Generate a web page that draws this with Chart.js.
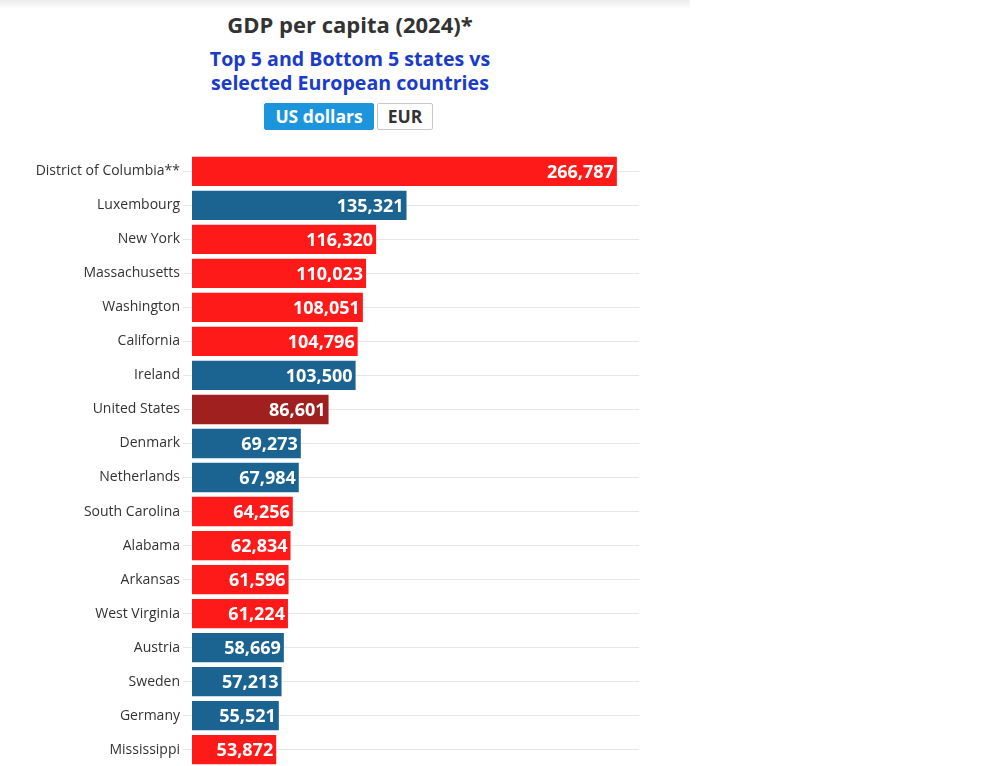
<!DOCTYPE html>
<html>
<head>
<meta charset="utf-8">
<script src="https://cdn.jsdelivr.net/npm/chart.js@4.4.1/dist/chart.umd.min.js"></script>
<style>
  body { margin: 0; background: #fff; font-family: "Open Sans", sans-serif; overflow: hidden; }
  #wrap { position: relative; width: 690px; height: 766px; }
  #topband { position: absolute; left: 0; top: 0; width: 690px; height: 9px;
    background: linear-gradient(#ececec, #fff); }
  #title { position: absolute; top: 9px; left: 0; width: 700px; text-align: center;
    font-size: 22px; font-weight: 700; color: #333; }
  #subtitle { position: absolute; top: 47px; left: 0; width: 700px; text-align: center;
    font-size: 19.6px; font-weight: 700; color: #1a3cc8; line-height: 24px; }
  #buttons { position: absolute; top: 103px; left: 264px; display: flex; gap: 3px; }
  .btn { height: 27px; box-sizing: border-box; font-size: 17.5px; font-weight: 700;
    line-height: 25px; padding: 0; border-radius: 2px; }
  .on { background: #1c95dc; color: #fff; border: 1px solid #1c95dc; width: 110px; text-align: center; }
  .off { background: #fff; color: #333; border: 1px solid #c8c8c8; width: 56px; text-align: center; }
  #box { position: absolute; left: 0; top: 143px; width: 690px; height: 635px; }
</style>
</head>
<body>
<div id="wrap">
  <div id="topband"></div>
  <div id="title">GDP per capita (2024)*</div>
  <div id="subtitle">Top 5 and Bottom 5 states vs<br>selected European countries</div>
  <div id="buttons"><div class="btn on">US dollars</div><div class="btn off">EUR</div></div>
  <div id="box"><canvas id="gdpChart"></canvas></div>
</div>
<script>
// GDP per capita 2024, US dollars
const places = ["District of Columbia**", "Luxembourg", "New York", "Massachusetts", "Washington",
  "California", "Ireland", "United States", "Denmark", "Netherlands", "South Carolina", "Alabama",
  "Arkansas", "West Virginia", "Austria", "Sweden", "Germany", "Mississippi"];
const gdpValues = [266787, 135321, 116320, 110023, 108051, 104796, 103500, 86601, 69273, 67984,
  64256, 62834, 61596, 61224, 58669, 57213, 55521, 53872];
// "state", "country" or "us"
const kinds = ["state", "country", "state", "state", "state", "state", "country", "us", "country",
  "country", "state", "state", "state", "state", "country", "country", "country", "state"];

const colorOf = { state: "#ff1a1a", country: "#1b6491", us: "#a02020" };

const valueLabels = {
  id: "valueLabels",
  afterDatasetsDraw(chart) {
    const ctx = chart.ctx;
    const meta = chart.getDatasetMeta(0);
    ctx.save();
    ctx.font = "700 18px 'Open Sans'";
    ctx.fillStyle = "#fff";
    ctx.textAlign = "right";
    ctx.textBaseline = "middle";
    meta.data.forEach((bar, i) => {
      ctx.fillText(gdpValues[i].toLocaleString("en-US"), bar.x - 4, bar.y + 1);
    });
    ctx.restore();
  }
};

const ctx = document.getElementById("gdpChart").getContext("2d");
new Chart(ctx, {
  type: "bar",
  data: {
    labels: places,
    datasets: [{
      data: gdpValues,
      backgroundColor: kinds.map(k => colorOf[k]),
      borderColor: "rgba(255,255,255,0.5)",
      borderWidth: 1,
      borderSkipped: false,
      barPercentage: 0.92,
      categoryPercentage: 1
    }]
  },
  options: {
    indexAxis: "y",
    responsive: true,
    maintainAspectRatio: false,
    animation: false,
    layout: { padding: { top: 8, bottom: 1, left: 0, right: 51 } },
    scales: {
      x: { display: false, min: 0, max: 280000 },
      y: {
        afterFit: s => { s.width = 191; },
        border: { display: false },
        grid: { offset: false, color: "#e6e6e6", tickLength: 8, tickColor: "#e6e6e6" },
        ticks: { color: "#333", padding: 3, font: { family: "Open Sans", size: 14 } }
      }
    },
    plugins: { legend: { display: false }, tooltip: { enabled: false } }
  },
  plugins: [valueLabels]
});
</script>
</body>
</html>
